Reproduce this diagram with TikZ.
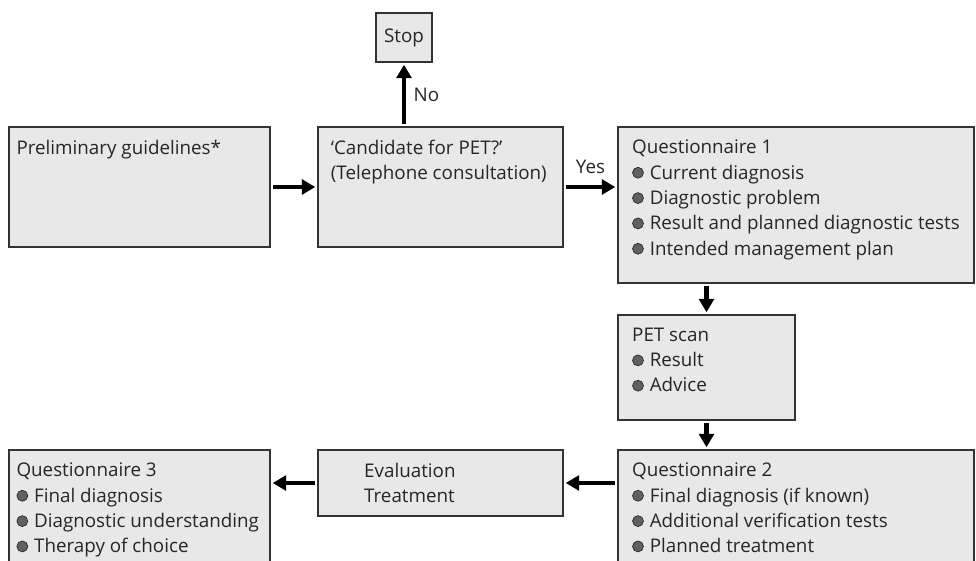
\documentclass[tikz,border=0pt]{standalone}
\usepackage{fontspec}
\setmainfont{Open Sans}
\usetikzlibrary{positioning, arrows.meta}

\newcommand{\bul}{\tikz[baseline=-0.62ex]\filldraw[draw=black!85, fill=black!62, line width=0.5pt] (0,0) circle (4.1pt);\hspace{4.5pt}}

\begin{document}
\begin{tikzpicture}[x=0.75pt, y=-0.75pt, >={Triangle[length=10pt,width=11pt]},
    box/.style={draw=black!80, fill=black!9, line width=1.1pt, inner sep=0pt},
    txt/.style={anchor=north west, align=left, inner sep=0pt, text=black!85, font=\fontsize{14.1}{19}\selectfont},
    lbl/.style={text=black!85, font=\fontsize{14.1}{19}\selectfont},
    flow/.style={->, line width=3.7pt, shorten <=2pt, shorten >=1.5pt}]
      \useasboundingbox (0,0) rectangle (976,561);
      \clip (0,0) rectangle (976,561);

      % Top row
      \node[box, minimum width=195.75pt, minimum height=90pt] (prelim) at (139.5,187) {};
      \node[txt, xshift=6pt, yshift=-10pt] at (prelim.north west) {Preliminary guidelines*};

      \node[box, minimum width=183.75pt, minimum height=90pt] (cand) at (440.5,187) {};
      \node[txt, xshift=10pt, yshift=-10pt] at (cand.north west) {‘Candidate for PET?’\\(Telephone consultation)};

      \node[box, lbl, minimum width=42pt, minimum height=36.75pt] (stop) at (404,37.5) {Stop};

      \node[box, minimum width=267pt, minimum height=117pt] (q1) at (796,205) {};
      \node[txt, xshift=11pt, yshift=-10pt] at (q1.north west) {Questionnaire 1\\\bul Current diagnosis\\\bul Diagnostic problem\\\bul Result and planned diagnostic tests\\\bul Intended management plan};

      % Middle
      \node[box, minimum width=132.75pt, minimum height=78.75pt] (pet) at (706.5,367.5) {};
      \node[txt, xshift=11pt, yshift=-10pt] at (pet.north west) {PET scan\\\bul Result\\\bul Advice};

      % Bottom row
      \node[box, minimum width=267pt, minimum height=97.5pt] (q2) at (796,515) {};
      \node[txt, xshift=11pt, yshift=-10pt] at (q2.north west) {Questionnaire 2\\\bul Final diagnosis (if known)\\\bul Additional verification tests\\\bul Planned treatment};

      \node[box, minimum width=183.75pt, minimum height=49.5pt] (eval) at (440.5,483) {};
      \node[txt, xshift=35pt, yshift=-10pt] at (eval.north west) {Evaluation\\Treatment};

      \node[box, minimum width=195.75pt, minimum height=97.5pt] (q3) at (139.5,515) {};
      \node[txt, xshift=6pt, yshift=-10pt] at (q3.north west) {Questionnaire 3\\\bul Final diagnosis\\\bul Diagnostic understanding\\\bul Therapy of choice};

      % Arrows
      \path[flow] (prelim) edge (cand)
            (stop |- cand.north) edge node[lbl, right=2pt] {No} (stop)
            (cand.east) edge node[lbl, above=5pt] {Yes} (cand.east -| q1.west)
            (q1.south -| pet) edge (pet)
            (pet) edge (pet.south |- q2.north)
            (eval.east -| q2.west) edge (eval)
            (eval) edge (eval.west -| q3.east)
            ;
\end{tikzpicture}
\end{document}
